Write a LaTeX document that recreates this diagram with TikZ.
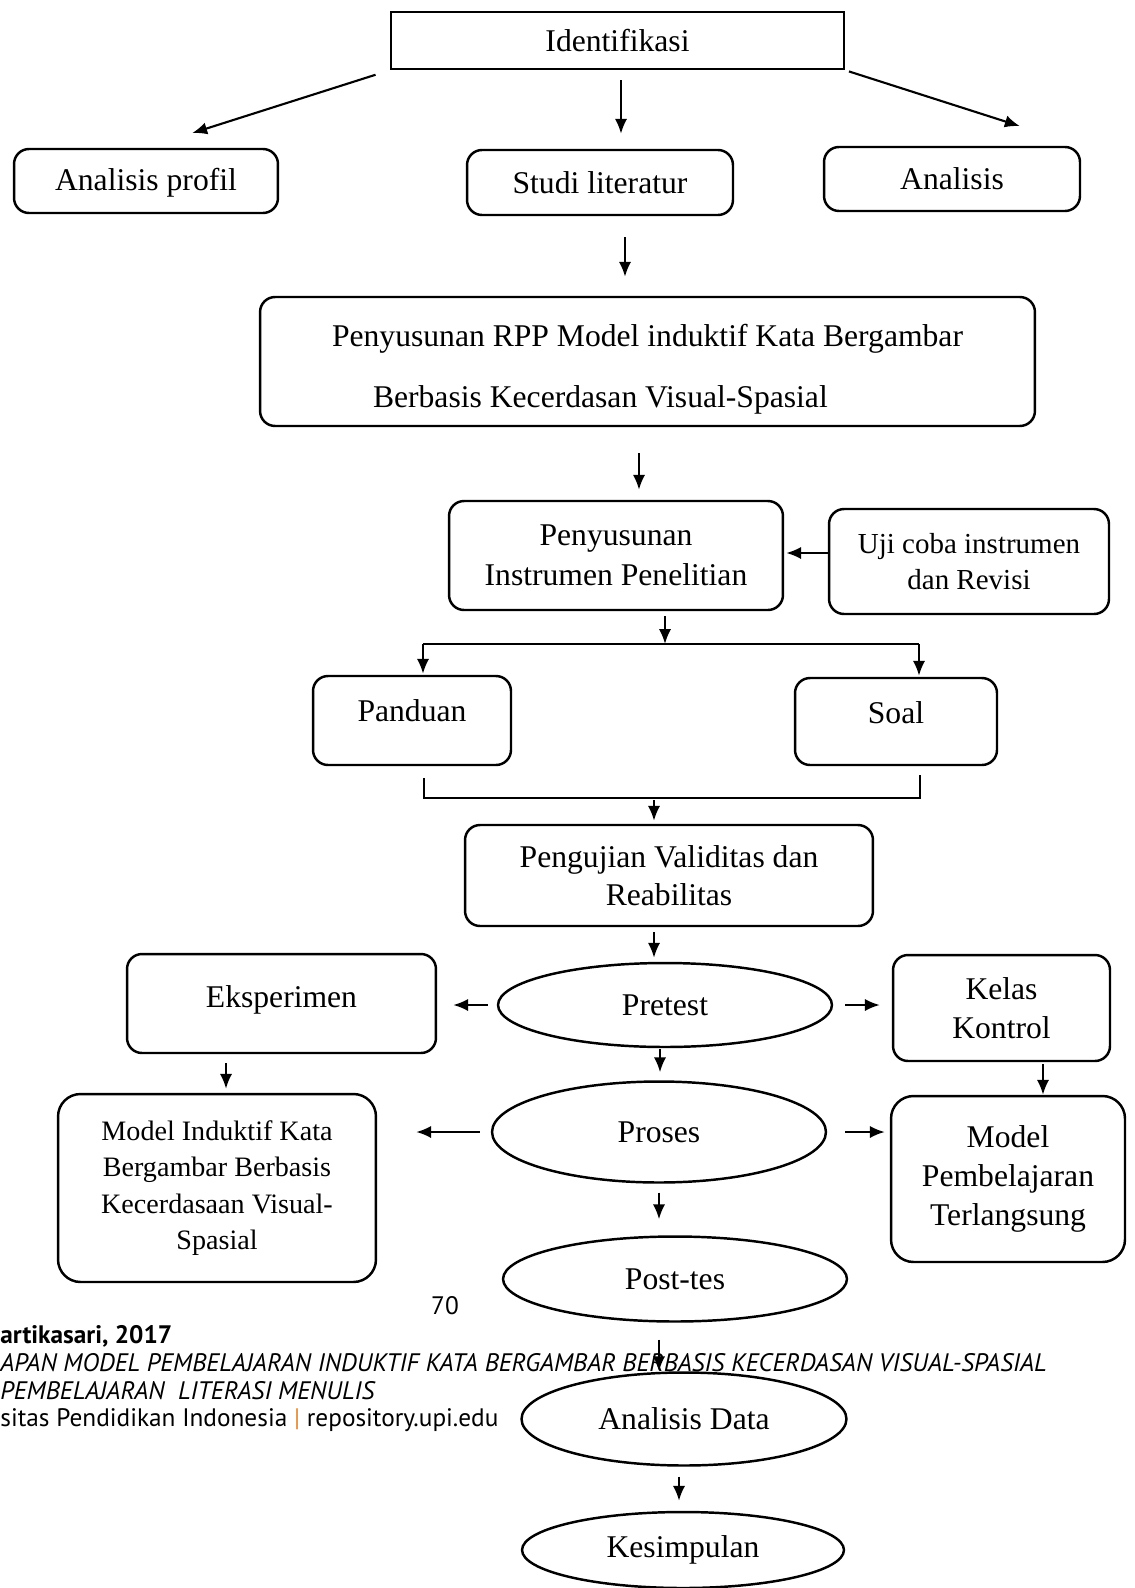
\documentclass[tikz,border=0pt]{standalone}
\usepackage{fontspec}
\setmainfont{Liberation Serif}
\newfontfamily\kakifont{PT Sans}
\usetikzlibrary{shapes.geometric,calc,arrows.meta}
\definecolor{oranye}{RGB}{228,138,54}
\tikzstyle{every node}=[inner sep=0pt]
\tikzstyle{kotak}=[draw=black,line width=1.4pt,rounded corners=0.3cm,align=center,font=\fontsize{18}{22}\selectfont]
\tikzstyle{elips}=[draw=black,line width=1.4pt,ellipse,font=\fontsize{18}{22}\selectfont]
\tikzstyle{panah}=[-{Latex[length=8.5pt,width=7pt]},line width=1.2pt]
\tikzstyle{garis}=[line width=0.6pt]
\tikzstyle{kaki}=[anchor=west,font=\kakifont\fontsize{14.4}{17}\selectfont]

\begin{document}
\begin{tikzpicture}[x=0.02cm,y=-0.02cm]
    \fill[white] (0,0) rectangle (1134,1588);
    \useasboundingbox (0,0) rectangle (1134,1588);
    \node[kotak,sharp corners,minimum width=9.06cm,minimum height=1.14cm] (ident) at (617.5,40.5) {Identifikasi};
    \node[kotak,minimum width=5.28cm,minimum height=1.28cm] (profil) at (146,181) {\rule{0pt}{0.5cm}Analisis profil};
    \node[kotak,minimum width=5.32cm,minimum height=1.30cm] (studi) at (600,182.5) {Studi literatur};
    \node[kotak,minimum width=5.12cm,minimum height=1.28cm] (analisis) at (952,179) {Analisis};
    \node[kotak,align=left,minimum width=15.5cm,minimum height=2.58cm,font=\fontsize{18}{34.6}\selectfont] (rpp) at (647.5,361.5)
        {\rule{0pt}{0.75cm}Penyusunan RPP Model induktif Kata Bergambar\\ \hspace*{0.82cm}Berbasis Kecerdasan Visual-Spasial};
    \node[kotak,minimum width=6.68cm,minimum height=2.18cm,font=\fontsize{18}{22.7}\selectfont] (instr) at (616,555.5) {Penyusunan\\Instrumen Penelitian};
    \node[kotak,minimum width=5.6cm,minimum height=2.1cm,font=\fontsize{16.5}{20.4}\selectfont] (uji) at (969,561.5) {Uji coba instrumen\\dan Revisi};
    \node[kotak,minimum width=3.96cm,minimum height=1.78cm] (panduan) at (412,720.5) {Panduan\rule[-0.4cm]{0pt}{0pt}};
    \node[kotak,minimum width=4.04cm,minimum height=1.74cm] (soal) at (896,721.5) {Soal\rule[-0.36cm]{0pt}{0pt}};
    \node[kotak,minimum width=8.16cm,minimum height=2.02cm,font=\fontsize{18}{21.5}\selectfont] (pengujian) at (669,875.5) {Pengujian Validitas dan\\Reabilitas};
    \node[elips,minimum width=6.68cm,minimum height=1.68cm] (pretest) at (665,1005) {Pretest};
    \node[kotak,minimum width=6.18cm,minimum height=1.98cm] (eksp) at (281.5,1003.5) {Eksperimen\rule[-0.26cm]{0pt}{0pt}};
    \node[kotak,minimum width=4.34cm,minimum height=2.12cm] (kelas) at (1001.5,1008) {Kelas\\Kontrol};
    \node[elips,minimum width=6.68cm,minimum height=2.02cm] (proses) at (659,1132) {Proses};
    \node[kotak,rounded corners=0.45cm,minimum width=6.36cm,minimum height=3.76cm,font=\fontsize{16}{20.8}\selectfont] (induktif) at (217,1188)
        {Model Induktif Kata\\Bergambar Berbasis\\Kecerdasaan Visual-\\Spasial};
    \node[kotak,rounded corners=0.45cm,minimum width=4.68cm,minimum height=3.32cm,font=\fontsize{18}{22.4}\selectfont] (pemb) at (1008,1179)
        {Model\\Pembelajaran\\Terlangsung};
    \node[elips,minimum width=6.88cm,minimum height=1.70cm] (posttes) at (675,1279) {Post-tes};
    \node[elips,minimum width=6.5cm,minimum height=1.86cm] (data) at (684,1419) {Analisis Data};
    \node[elips,minimum width=6.44cm,minimum height=1.52cm] (kesimpulan) at (683,1550) {Kesimpulan};

    \node[kaki,anchor=center] (halaman) at (445,1306) {70};
    \node[kaki] (penulis) at (0,1336) {\bfseries artikasari, 2017};
    \node[kaki] (judul1) at (0,1363) {\itshape APAN MODEL PEMBELAJARAN INDUKTIF KATA BERGAMBAR BERBASIS KECERDASAN VISUAL-SPASIAL};
    \node[kaki] (judul2) at (0,1391) {\itshape PEMBELAJARAN\ \ LITERASI MENULIS};
    \node[kaki] (univ) at (0,1420) {sitas Pendidikan Indonesia {\color{oranye}|} repository.upi.edu};

    \draw[panah,shorten <=0.3cm,shorten >=0.97cm] (ident.south west) -- (profil.north);
    \draw[panah,shorten <=0.2cm,shorten >=0.3cm] ([xshift=0.07cm]ident.south) -- ([xshift=0.07cm]ident.south |- studi.north);
    \draw[panah,shorten <=0.08cm,shorten >=1.29cm] (ident.south east) -- (analisis.north east);
    \draw[panah,shorten <=0.42cm,shorten >=0.38cm] ([xshift=0.5cm]studi.south) -- ([xshift=0.5cm]studi.south |- rpp.north);
    \draw[panah,shorten <=0.52cm,shorten >=0.2cm] ([xshift=-0.17cm]rpp.south) -- ([xshift=-0.17cm]rpp.south |- instr.north);
    \draw[panah,shorten >=0.04cm] ([yshift=0.17cm]uji.west) -- ([yshift=0.17cm]uji.west -| instr.east);

    \coordinate (bagi) at (665,644);
    \draw[panah,shorten <=0.1cm] (instr.south -| bagi) -- (bagi);
    \draw[garis] ([xshift=0.22cm]panduan.north |- bagi) -- ([xshift=0.46cm]soal.north |- bagi);
    \draw[panah,shorten >=0.02cm] ([xshift=0.22cm]panduan.north |- bagi) -- ([xshift=0.22cm]panduan.north);
    \draw[panah,shorten >=0.02cm] ([xshift=0.46cm]soal.north |- bagi) -- ([xshift=0.46cm]soal.north);

    \coordinate (gabung) at (654,798);
    \draw[garis] ([xshift=0.24cm,yshift=-0.24cm]panduan.south) |- ([xshift=0.48cm]soal.south |- gabung) -- ([xshift=0.48cm,yshift=-0.18cm]soal.south);
    \draw[panah,shorten <=0.04cm,shorten >=0.06cm] (gabung) -- (gabung |- pengujian.north);

    \draw[panah,shorten <=0.1cm,shorten >=0.08cm] ([xshift=-0.3cm]pengujian.south) -- ([xshift=-0.3cm]pengujian.south |- pretest.north);
    \draw[panah,shorten <=0.18cm,shorten >=0.32cm] (pretest.west) -- (pretest.west -| eksp.east);
    \draw[panah,shorten <=0.24cm,shorten >=0.24cm] (pretest.east) -- (pretest.east -| kelas.west);
    \draw[panah,shorten <=0.02cm,shorten >=0.16cm] ([xshift=-0.1cm]pretest.south) -- ([xshift=-0.1cm]pretest.south |- proses.north);
    \draw[panah,shorten <=0.18cm,shorten >=0.08cm] ([xshift=-1.11cm]eksp.south) -- ([xshift=-1.11cm]eksp.south |- induktif.north);
    \draw[panah,shorten <=0.22cm,shorten >=0.78cm] (proses.west) -- (proses.west -| induktif.east);
    \draw[panah,shorten <=0.36cm,shorten >=0.1cm] (proses.east) -- (proses.east -| pemb.west);
    \draw[panah,shorten <=0.04cm] ([xshift=0.83cm]kelas.south) -- ([xshift=0.83cm]kelas.south |- pemb.north);
    \draw[panah,shorten <=0.18cm,shorten >=0.32cm] (proses.south) -- (proses.south |- posttes.north);
    \draw[panah,shorten <=0.34cm] ([xshift=-0.32cm]posttes.south) -- ([xshift=-0.32cm]posttes.south |- data.north);
    \draw[panah,shorten <=0.2cm,shorten >=0.2cm] ([xshift=-0.1cm]data.south) -- ([xshift=-0.1cm]data.south |- kesimpulan.north);
\end{tikzpicture}
\end{document}
